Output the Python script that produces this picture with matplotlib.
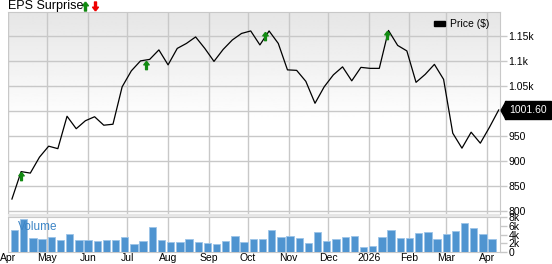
import numpy as np
import pandas as pd
import matplotlib
matplotlib.use("Agg")
import matplotlib.pyplot as plt
import matplotlib.dates as mdates
from matplotlib.path import Path
from matplotlib.patches import Patch, Rectangle
from matplotlib.ticker import FuncFormatter, FixedLocator
import matplotlib.transforms as mtransforms

plt.rcParams["font.family"] = ["Liberation Sans", "DejaVu Sans"]

# weekly closes, Apr 2025 - Apr 2026
week_start = "2025-04-04"
price = [823, 878, 875, 907, 929, 924, 989, 964, 980, 988, 971, 973, 1048, 1080,
         1100, 1103, 1122, 1092, 1125, 1135, 1148, 1125, 1099, 1123, 1142, 1155,
         1160, 1132, 1160, 1135, 1082, 1081, 1059, 1015, 1048, 1072, 1088, 1060,
         1087, 1085, 1085, 1161, 1131, 1120, 1057, 1073, 1093, 1063, 955, 925,
         957, 935, 967, 1001.6]
last_price = "1001.60"

# weekly volume (thousands)
volume = [4.96, 7.47, 3.2, 2.9, 3.43, 2.8, 4.04, 2.67, 2.74, 2.51, 2.8, 2.74,
          3.43, 1.9, 2.51, 5.64, 2.8, 2.36, 2.29, 2.9, 2.36, 2.2, 1.83, 2.59,
          3.66, 2.36, 2.97, 2.9, 4.96, 3.36, 3.58, 3.2, 2.21, 4.57, 2.59, 3.05,
          3.36, 3.66, 1.3, 1.52, 3.5, 5.03, 3.2, 3.28, 4.42, 4.65, 2.9, 4.19,
          4.72, 6.63, 5.49, 4.11, 2.9]

# EPS beats
eps_dates = ["2025-04-11", "2025-07-15", "2025-10-14", "2026-01-15"]
eps_price = [869, 1092, 1150, 1152]

price_ticks = [800, 850, 900, 950, 1000, 1050, 1100, 1150]
vol_ticks = [0, 2, 4, 6, 8]

dates = pd.date_range(week_start, periods=len(price), freq="7D")
vol_dates = dates[:len(volume)] + pd.Timedelta(days=2)

W, H = 552, 264
fig = plt.figure(figsize=(W / 100, H / 100), dpi=100)
L, R = 8, 500
ax = fig.add_axes([L / W, 1 - 214 / H, (R - L) / W, (214 - 12) / H])
axv = fig.add_axes([L / W, 1 - 252.3 / H, (R - L) / W, (252.3 - 216.5) / H])

grid_c = "#c8c8c8"
xmin, xmax = pd.Timestamp("2025-04-01"), pd.Timestamp("2026-04-11")

# gradient background of price panel
grad = np.clip(0.9 + 0.1 * np.linspace(0, 1, 200) / 0.55, 0, 1).reshape(-1, 1)
ax.imshow(grad, cmap="gray", vmin=0, vmax=1, extent=[0, 1, 0, 1],
          transform=ax.transAxes, aspect="auto", zorder=0)

ax.plot(dates, price, color="black", lw=0.9, zorder=3)

arrow = Path([(0, 1), (-0.65, 0.15), (-0.22, 0.15), (-0.22, -1), (0.22, -1),
              (0.22, 0.15), (0.65, 0.15), (0, 1)])
down_arrow = Path(arrow.vertices * [1, -1])
ax.plot(pd.to_datetime(eps_dates), eps_price, ls="none", marker=arrow,
        ms=6, color="#128a12", zorder=4)

for a in (ax, axv):
    a.set_xlim(xmin, xmax)
    a.set_axisbelow(True)
    a.grid(True, color=grid_c, lw=1)
    for s in a.spines.values():
        s.set_color(grid_c)
    a.spines["left"].set_visible(False)
    a.yaxis.tick_right()
    a.tick_params(axis="y", labelcolor="black", length=5,
                  width=1, pad=1, labelsize=7.5)
    a.tick_params(axis="y", color=grid_c)
    a.xaxis.set_major_locator(mdates.MonthLocator())
    a.tick_params(axis="x", length=0, labelsize=7.5, pad=0.5)

ax.set_ylim(793, 1198)
ax.yaxis.set_major_locator(FixedLocator(price_ticks))
ax.yaxis.set_major_formatter(FuncFormatter(
    lambda v, p: "" if v == 1000 else (f"{v / 1000:g}k" if v > 1000 else f"{v:g}")))
ax.tick_params(axis="x", labelbottom=False)

axv.bar(vol_dates, volume, width=5.6, color="#4f94d0", edgecolor="#9cc4e8",
        lw=0.6, zorder=3)
axv.set_ylim(0, 8.1)
axv.yaxis.set_major_locator(FixedLocator(vol_ticks))
axv.yaxis.set_major_formatter(FuncFormatter(lambda v, p: "0" if v == 0 else f"{v:g}k"))
axv.xaxis.set_major_formatter(FuncFormatter(
    lambda v, p: mdates.num2date(v).strftime("%Y") if mdates.num2date(v).month == 1
    else mdates.num2date(v).strftime("%b")))
axv.grid(axis="y", visible=False)
axv.text((18 - L) / (R - L), 0.71, "Volume", transform=axv.transAxes,
         color="#3d85c6", fontsize=8.5, va="center", ha="left", zorder=5)

# separator band
fig.add_artist(Rectangle((L / W, 1 - 216.5 / H), (R - L) / W, 2.5 / H,
                         transform=fig.transFigure, color="#e6e6e6", lw=0))

# legend
ax.legend(handles=[Patch(color="black")], labels=["Price ($)"],
          loc="upper right", bbox_to_anchor=(1 - 6 / (R - L), 1 - 3 / 202),
          frameon=False, fontsize=7.5, handlelength=1.1, handleheight=0.5,
          handletextpad=0.5, borderaxespad=0)

# last price tag
tr = mtransforms.blended_transform_factory(ax.transAxes, ax.transData)
tag = Path([(-0.28, 0), (0.28, -1), (0.28, 1), (-0.28, 0)])
ax.plot([1 + 3.5 / (R - L)], [price[-1]], transform=tr, marker=tag, ms=13,
        color="black", clip_on=False, zorder=6)
ax.text(1 + 9.3 / (R - L), price[-1], last_price, transform=tr, color="white",
        fontsize=7.5, ha="left", va="center", clip_on=False, zorder=7,
        bbox=dict(boxstyle="square,pad=0.37", fc="black", ec="black"))

# title
fig.text(L / W, 1 - 6 / H, "EPS Surprise", fontsize=9, ha="left", va="center")
fig.add_artist(plt.Line2D([85 / W], [1 - 6 / H], marker=arrow, ms=6.5,
                          color="#128a12", ls="none", transform=fig.transFigure))
fig.add_artist(plt.Line2D([95 / W], [1 - 6 / H], marker=down_arrow, ms=6.5,
                          color="#ee0000", ls="none", transform=fig.transFigure))

fig.savefig("out.png", dpi=100)
